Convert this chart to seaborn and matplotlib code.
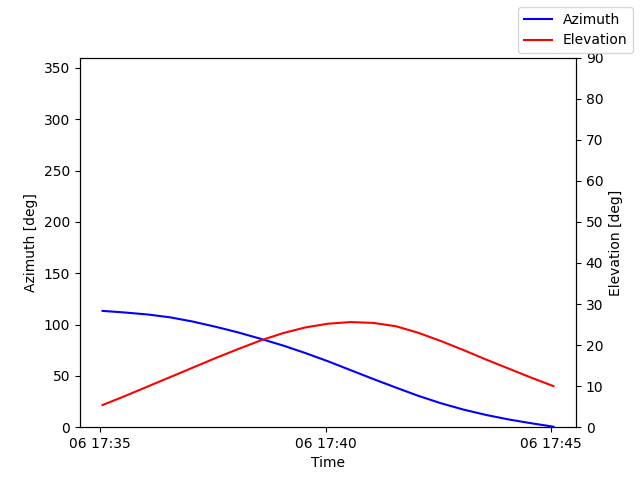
import matplotlib
matplotlib.use('Agg')
import matplotlib.pyplot as plt
import matplotlib.dates as mdates
import pandas as pd
import seaborn as sns

# pass samples every 30 s
times = pd.date_range('2023-06-06 17:35:03', periods=21, freq='30s')
azimuth = [113.3, 111.7, 109.8, 107.0, 102.9, 97.9, 92.4, 86.2, 79.6, 72.2, 64.2,
           55.6, 47.0, 38.7, 30.6, 23.4, 17.2, 12.0, 7.6, 3.9, 0.5]
elevation = [5.4, 7.6, 9.9, 12.2, 14.5, 16.8, 19.0, 21.1, 22.9, 24.3, 25.2,
             25.6, 25.4, 24.6, 23.0, 21.0, 18.8, 16.5, 14.3, 12.1, 10.0]

df = pd.DataFrame({'Time': times, 'Azimuth': azimuth, 'Elevation': elevation})

fig, ax = plt.subplots(figsize=(6.4, 4.8), dpi=100)
sns.lineplot(x='Time', y='Azimuth', data=df, color='b', ax=ax, label='Azimuth', legend=False)
ax2 = ax.twinx()
sns.lineplot(x='Time', y='Elevation', data=df, color='r', ax=ax2, label='Elevation', legend=False)

ax.set_ylim(0, 360)
ax.set_yticks(range(0, 351, 50))
ax2.set_ylim(0, 90)
ax2.set_yticks(range(0, 91, 10))
ax.set_xlabel('Time')
ax.set_ylabel('Azimuth [deg]')
ax2.set_ylabel('Elevation [deg]')
ax.xaxis.set_major_locator(mdates.MinuteLocator(byminute=[35, 40, 45]))
ax.xaxis.set_major_formatter(mdates.DateFormatter('%d %H:%M'))

fig.legend()
fig.savefig('out.png', dpi=100)
